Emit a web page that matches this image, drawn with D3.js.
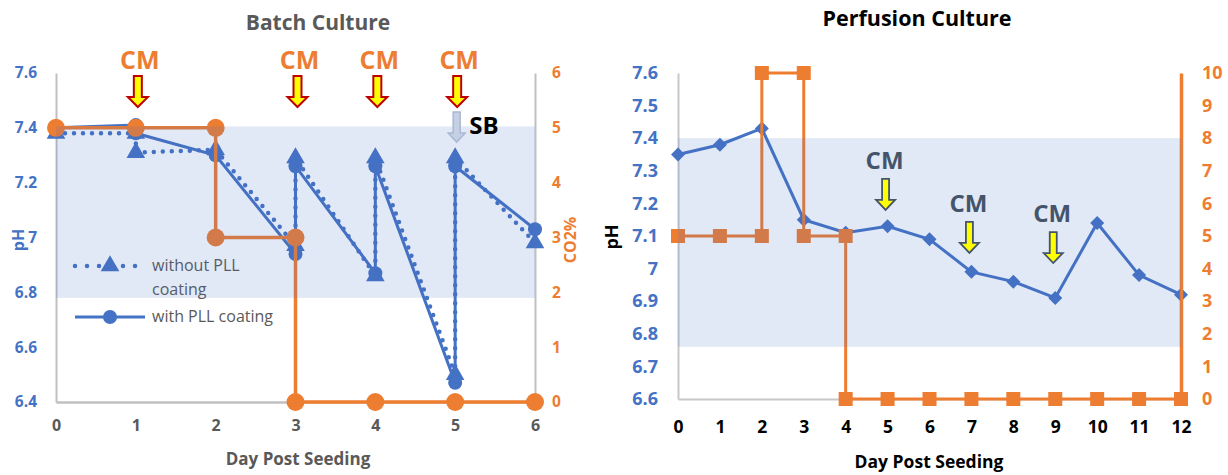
<!DOCTYPE html>
<html><head><meta charset="utf-8">
<script src="https://cdn.jsdelivr.net/npm/d3@7"></script>
<style>
html,body{margin:0;padding:0;background:#fff;}
svg{display:block;font-family:"Open Sans",sans-serif;}
</style></head><body>
<svg id="c" width="1228" height="475"></svg>
<script>
// ---------- Batch culture data ----------
const batchDaysWithout = [0, 1, 1, 2, 3, 3, 4, 4, 5, 5, 6];
const batchPHWithout   = [7.38, 7.38, 7.31, 7.32, 6.97, 7.29, 6.86, 7.29, 6.50, 7.29, 6.98];
const batchDaysWith    = [0, 1, 1, 2, 3, 3, 4, 4, 5, 5, 6];
const batchPHWith      = [7.40, 7.41, 7.38, 7.30, 6.94, 7.26, 6.87, 7.26, 6.47, 7.26, 7.03];
const batchCO2Days     = [0, 1, 2, 2, 3, 3, 4, 5, 6];
const batchCO2         = [5, 5, 5, 3, 3, 0, 0, 0, 0];
const batchDayTicks    = [0, 1, 2, 3, 4, 5, 6];
const batchPHTicks     = [6.4, 6.6, 6.8, 7, 7.2, 7.4, 7.6];
const batchCO2Ticks    = [0, 1, 2, 3, 4, 5, 6];
const batchBand        = [6.78, 7.405];
const batchCMDays      = [1, 3, 4, 5];
const batchSBDay       = 5;
const batchLegend      = [["without PLL", "coating"], ["with PLL coating"]];

// ---------- Perfusion culture data ----------
const perfDays     = [0, 1, 2, 3, 4, 5, 6, 7, 8, 9, 10, 11, 12];
const perfPH       = [7.35, 7.38, 7.43, 7.15, 7.11, 7.13, 7.09, 6.99, 6.96, 6.91, 7.14, 6.98, 6.92];
const perfCO2Days  = [0, 1, 2, 2, 3, 3, 4, 4, 5, 6, 7, 8, 9, 10, 11, 12];
const perfCO2      = [5, 5, 5, 10, 10, 5, 5, 0, 0, 0, 0, 0, 0, 0, 0, 0];
const perfDayTicks = [0, 1, 2, 3, 4, 5, 6, 7, 8, 9, 10, 11, 12];
const perfPHTicks  = [6.6, 6.7, 6.8, 6.9, 7, 7.1, 7.2, 7.3, 7.4, 7.5, 7.6];
const perfCO2Ticks = [0, 1, 2, 3, 4, 5, 6, 7, 8, 9, 10];
const perfBand     = [6.76, 7.40];
const perfCMDays   = [5, 7, 9];
const perfCMTipPH  = [7.18, 7.048, 7.017];

const BLUE = "#4472c4", ORANGE = "#ed7d31", GRAY = "#595959";
const svg = d3.select("#c");
const fmt = d3.format("~g");

function arrowPath(cx, yTop, yTip, shaftW, headW, headH) {
  const s = shaftW / 2, h = headW / 2, yb = yTip - headH;
  return `M${cx - s},${yTop}L${cx + s},${yTop}L${cx + s},${yb}L${cx + h},${yb}L${cx},${yTip}L${cx - h},${yb}L${cx - s},${yb}Z`;
}
function styleAxis(g, color, size, weight, domainColor, domainW) {
  g.selectAll("text").attr("fill", color).style("font-size", size + "px").style("font-weight", weight).style("font-family", '"Open Sans",sans-serif');
  g.select(".domain").attr("stroke", domainColor).attr("stroke-width", domainW);
  g.selectAll(".tick line").remove();
}

// ================= BATCH =================
{
  const x = d3.scaleLinear().domain([0, 6]).range([56, 535]);
  const y = d3.scaleLinear().domain([6.4, 7.6]).range([402, 73]);
  const y2 = d3.scaleLinear().domain([0, 6]).range([402, 73]);
  const g = svg.append("g");

  // axes
  const gl = g.append("g").attr("transform", `translate(${x(0)},0)`)
    .call(d3.axisLeft(y).tickValues(batchPHTicks).tickFormat(fmt).tickSize(0).tickPadding(19));
  styleAxis(gl, BLUE, 15.5, 700, "#c0c0c0", 2);
  const gr = g.append("g").attr("transform", `translate(${x(6)},0)`)
    .call(d3.axisRight(y2).tickValues(batchCO2Ticks).tickFormat(fmt).tickSize(0).tickPadding(17));
  styleAxis(gr, ORANGE, 15.5, 700, "#c0c0c0", 2);
  const gb = g.append("g").attr("transform", `translate(0,${y(6.4)})`)
    .call(d3.axisBottom(x).tickValues(batchDayTicks).tickFormat(fmt).tickSize(0).tickPadding(18));
  styleAxis(gb, GRAY, 16, 700, "#c0c0c0", 2.5);

  const ptsWo = batchDaysWithout.map((d, i) => [x(d), y(batchPHWithout[i])]);
  const ptsW = batchDaysWith.map((d, i) => [x(d), y(batchPHWith[i])]);
  const line = d3.line();
  g.append("path").attr("d", line(ptsW)).attr("fill", "none").attr("stroke", BLUE).attr("stroke-width", 3);
  g.append("path").attr("d", line(ptsWo)).attr("fill", "none").attr("stroke", BLUE)
    .attr("stroke-width", 4.5).attr("stroke-linecap", "round").attr("stroke-dasharray", "0 9");
  const tri = d3.symbol().type(d3.symbolTriangle).size(150);
  g.selectAll(".tri").data(ptsWo).join("path").attr("d", tri)
    .attr("transform", d => `translate(${d[0]},${d[1]})`).attr("fill", BLUE);
  g.selectAll(".cir").data(ptsW).join("circle").attr("cx", d => d[0]).attr("cy", d => d[1]).attr("r", 7).attr("fill", BLUE);

  // CO2
  const ptsC = batchCO2Days.map((d, i) => [x(d), y2(batchCO2[i])]);
  g.append("path").attr("d", line(ptsC)).attr("fill", "none").attr("stroke", ORANGE).attr("stroke-width", 3.5);
  g.selectAll(".oc").data(ptsC).join("circle").attr("cx", d => d[0]).attr("cy", d => d[1]).attr("r", 9).attr("fill", ORANGE);

  // legend
  const lg = g.append("g");
  const l1y = 266, l2y = 317;
  lg.append("line").attr("x1", 75).attr("x2", 140).attr("y1", l1y).attr("y2", l1y).attr("stroke", BLUE)
    .attr("stroke-width", 4.5).attr("stroke-linecap", "round").attr("stroke-dasharray", "0 12");
  lg.append("path").attr("d", tri).attr("transform", `translate(110,${l1y})`).attr("fill", BLUE);
  lg.append("line").attr("x1", 75).attr("x2", 145).attr("y1", l2y).attr("y2", l2y).attr("stroke", BLUE).attr("stroke-width", 3);
  lg.append("circle").attr("cx", 110).attr("cy", l2y).attr("r", 7).attr("fill", BLUE);
  const t1 = lg.append("text").attr("x", 152).attr("y", l1y + 5).attr("fill", GRAY).style("font-size", "16px");
  t1.append("tspan").attr("x", 152).text(batchLegend[0][0]);
  t1.append("tspan").attr("x", 152).attr("dy", 24).text(batchLegend[0][1]);
  lg.append("text").attr("x", 152).attr("y", l2y + 5).attr("fill", GRAY).style("font-size", "16px").text(batchLegend[1][0]);

  // band
  g.append("rect").attr("x", x(0)).attr("width", x(6) - x(0)).attr("y", y(batchBand[1]))
    .attr("height", y(batchBand[0]) - y(batchBand[1])).attr("fill", BLUE).attr("opacity", 0.16);

  // annotations
  const tipY = y(7.476), topY = y(7.589);
  batchCMDays.forEach(d => {
    g.append("path").attr("d", arrowPath(x(d) + 2, topY, tipY, 8, 20, 10))
      .attr("fill", "#ffff00").attr("stroke", "#c00000").attr("stroke-width", 2).attr("stroke-linejoin", "miter");
    g.append("text").attr("x", x(d) + 4).attr("y", topY - 7).attr("text-anchor", "middle")
      .attr("fill", ORANGE).style("font-size", "25px").style("font-weight", 700).text("CM");
  });
  g.append("path").attr("d", arrowPath(x(batchSBDay) + 1.5, y(7.458), y(7.348), 7, 17, 9))
    .attr("fill", "#c5d0e4").attr("stroke", "#a9b8d3").attr("stroke-width", 1.5);
  g.append("text").attr("x", x(batchSBDay) + 14).attr("y", y(7.377)).attr("fill", "#000")
    .style("font-size", "24px").style("font-weight", 700).text("SB");

  // titles
  g.append("text").attr("x", 318).attr("y", 30).attr("text-anchor", "middle").attr("fill", GRAY)
    .style("font-size", "21px").style("font-weight", 700).text("Batch Culture");
  g.append("text").attr("x", 298).attr("y", 465).attr("text-anchor", "middle").attr("fill", GRAY)
    .style("font-size", "17px").style("font-weight", 700).text("Day Post Seeding");
  g.append("text").attr("transform", "translate(24,240) rotate(-90)").attr("text-anchor", "middle").attr("fill", BLUE)
    .style("font-size", "16px").style("font-weight", 700).text("pH");
  g.append("text").attr("transform", "translate(576,240) rotate(-90)").attr("text-anchor", "middle").attr("fill", ORANGE)
    .style("font-size", "16px").style("font-weight", 700).text("CO2%");
}

// ================= PERFUSION =================
{
  const x = d3.scaleLinear().domain([0, 12]).range([678, 1181]);
  const y = d3.scaleLinear().domain([6.6, 7.6]).range([399, 73]);
  const y2 = d3.scaleLinear().domain([0, 10]).range([399, 73]);
  const g = svg.append("g");

  const gl = g.append("g").attr("transform", `translate(${x(0)},0)`)
    .call(d3.axisLeft(y).tickValues(perfPHTicks).tickFormat(fmt).tickSize(0).tickPadding(20));
  styleAxis(gl, BLUE, 18, 700, "#c8c8c8", 2);
  const gb = g.append("g").attr("transform", `translate(0,${y(6.6)})`)
    .call(d3.axisBottom(x).tickValues(perfDayTicks).tickFormat(fmt).tickSize(0).tickPadding(22));
  styleAxis(gb, "#000", 17.5, 700, "#c8c8c8", 2);
  const line = d3.line();

  const ptsP = perfDays.map((d, i) => [x(d), y(perfPH[i])]);
  g.append("path").attr("d", line(ptsP)).attr("fill", "none").attr("stroke", BLUE).attr("stroke-width", 3);
  g.selectAll(".dm").data(ptsP).join("path").attr("d", "M0,-7L7,0L0,7L-7,0Z")
    .attr("transform", d => `translate(${d[0]},${d[1]})`).attr("fill", BLUE);

  const ptsC = perfCO2Days.map((d, i) => [x(d), y2(perfCO2[i])]);
  g.append("path").attr("d", line(ptsC)).attr("fill", "none").attr("stroke", ORANGE).attr("stroke-width", 3);
  g.selectAll(".sq").data(ptsC).join("rect").attr("x", d => d[0] - 7).attr("y", d => d[1] - 7)
    .attr("width", 14).attr("height", 14).attr("fill", ORANGE);

  const gr = g.append("g").attr("transform", `translate(${x(12)},0)`)
    .call(d3.axisRight(y2).tickValues(perfCO2Ticks).tickFormat(fmt).tickSize(0).tickPadding(21));
  styleAxis(gr, ORANGE, 18, 700, ORANGE, 3.5);

  // band
  g.append("rect").attr("x", x(0)).attr("width", x(12) - x(0)).attr("y", y(perfBand[1]))
    .attr("height", y(perfBand[0]) - y(perfBand[1])).attr("fill", BLUE).attr("opacity", 0.16);

  // annotations
  perfCMDays.forEach((d, i) => {
    const tip = y(perfCMTipPH[i]);
    const top = tip - 31;
    g.append("path").attr("d", arrowPath(x(d) - 2, top, tip, 7, 19, 10))
      .attr("fill", "#ffff00").attr("stroke", "#44546a").attr("stroke-width", 1.8);
    g.append("text").attr("x", x(d) - 3).attr("y", top - 10).attr("text-anchor", "middle")
      .attr("fill", "#44546a").style("font-size", "24px").style("font-weight", 700).text("CM");
  });

  g.append("text").attr("x", 917).attr("y", 26).attr("text-anchor", "middle").attr("fill", "#000")
    .style("font-size", "21.5px").style("font-weight", 700).text("Perfusion Culture");
  g.append("text").attr("x", 929).attr("y", 468).attr("text-anchor", "middle").attr("fill", "#000")
    .style("font-size", "17.5px").style("font-weight", 700).text("Day Post Seeding");
  g.append("text").attr("transform", "translate(618,237) rotate(-90)").attr("text-anchor", "middle").attr("fill", "#000")
    .style("font-size", "18px").style("font-weight", 700).text("pH");
}
</script>
</body></html>
